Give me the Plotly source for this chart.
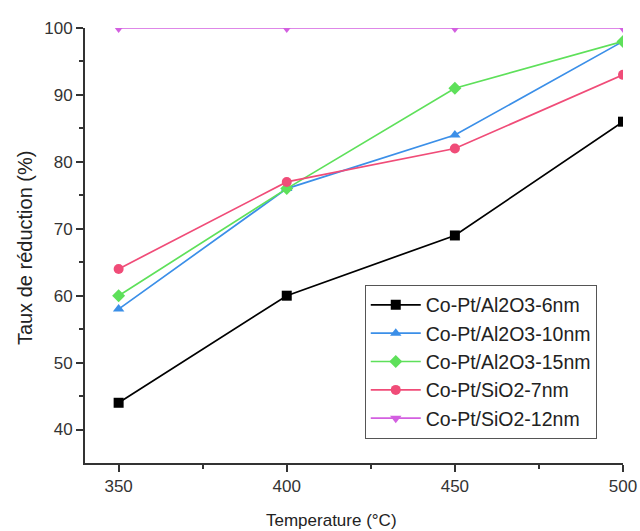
import plotly.graph_objects as go

temps = [350, 400, 450, 500]
s_names = ["Co-Pt/Al2O3-6nm", "Co-Pt/Al2O3-10nm", "Co-Pt/Al2O3-15nm", "Co-Pt/SiO2-7nm", "Co-Pt/SiO2-12nm"]
al_6 = [44, 60, 69, 86]
al_10 = [58, 76, 84, 98]
al_15 = [60, 76, 91, 98]
si_7 = [64, 77, 82, 93]
si_12 = [100, 100, 100, 100]

series = [al_6, al_10, al_15, si_7, si_12]
colors = ["#000000", "#3b8fe8", "#5ee05a", "#f04c78", "#d35fe0"]
symbols = ["square", "triangle-up", "diamond", "circle", "triangle-down"]

fig = go.Figure()
for name, ys, c, sym in zip(s_names, series, colors, symbols):
    fig.add_trace(go.Scatter(x=temps, y=ys, name=name, mode="lines+markers",
                             line=dict(color=c, width=1.7),
                             marker=dict(symbol=sym, size=10, color=c)))

fig.update_layout(
    width=640, height=531,
    margin=dict(l=85, r=17, t=28, b=68, autoexpand=False),
    plot_bgcolor="white", paper_bgcolor="white",
    font=dict(family="Liberation Sans, Arial, sans-serif", size=17, color="#333333"),
    showlegend=True,
    legend=dict(x=0.52, y=0.41, xanchor="left", yanchor="top",
                bordercolor="#555555", borderwidth=1, bgcolor="white",
                font=dict(size=19.5, color="#222222"), tracegroupgap=0, itemwidth=50),
    annotations=[
        dict(text="Temperature (°C)", xref="paper", yref="paper", x=0.459, y=-0.133,
             xanchor="center", yanchor="middle", showarrow=False,
             font=dict(size=17, color="#222")),
        dict(text="Taux de réduction (%)", xref="paper", yref="paper", x=-0.1115, y=0.494,
             xanchor="center", yanchor="middle", showarrow=False, textangle=-90,
             font=dict(size=20, color="#222")),
    ],
)
fig.update_xaxes(range=[340, 500], tickvals=[350, 400, 450, 500], automargin=False,
                 ticks="outside", ticklen=7, tickwidth=1.5, tickcolor="#333",
                 showline=True, linecolor="#333", linewidth=2, showgrid=False, zeroline=False,
                 minor=dict(tickvals=[375, 425, 475], ticks="outside", ticklen=4, tickcolor="#333"))
fig.update_yaxes(range=[35, 100], tickvals=[40, 50, 60, 70, 80, 90, 100], automargin=False,
                 ticks="outside", ticklen=7, tickwidth=1.5, tickcolor="#333",
                 showline=True, linecolor="#333", linewidth=2, showgrid=False, zeroline=False,
                 minor=dict(tickvals=[45, 55, 65, 75, 85, 95], ticks="outside", ticklen=4, tickcolor="#333"))

fig.write_html("out.html", config={"displayModeBar": False},
               post_script="document.body.style.margin='0';document.body.style.overflow='hidden';")
